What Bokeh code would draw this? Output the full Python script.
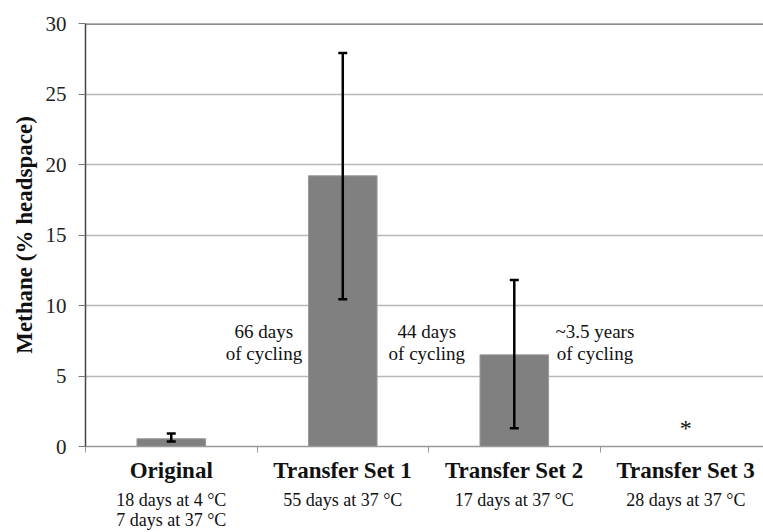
import math
from bokeh.plotting import figure
from bokeh.models import (ColumnDataSource, Range1d, FixedTicker, LinearAxis,
                          Whisker, TeeHead, Label, Span)
from bokeh.core.properties import value
from bokeh.embed import file_html
from bokeh.resources import INLINE

# ---- data ----
categories = ["Original", "Transfer Set 1", "Transfer Set 2", "Transfer Set 3"]
conditions = ["18 days at 4 °C\n7 days at 37 °C", "55 days at 37 °C", "17 days at 37 °C", "28 days at 37 °C"]
methane = [0.55, 19.2, 6.5, float("nan")]
err_low = [0.35, 10.45, 1.3, float("nan")]
err_high = [0.92, 27.9, 11.8, float("nan")]
cycling_text = ["66 days\nof cycling", "44 days\nof cycling", "~3.5 years\nof cycling"]
cycling_pos = [1.04, 1.99, 2.97]
cycling_y = [7.4, 7.4, 7.4]
not_detected = [3]  # index of category marked with asterisk
y_ticks = [0, 5, 10, 15, 20, 25, 30]

FONT = "Liberation Serif"
xs = [i + 0.5 for i in range(len(categories))]

p = figure(width=763, height=532, output_backend="svg", toolbar_location=None,
           x_range=Range1d(0, 3.953), y_range=Range1d(0, 30),
           min_border_left=85, min_border_right=0, min_border_top=23,
           min_border_bottom=86, x_axis_location=None)
p.outline_line_color = None
p.background_fill_color = "white"

# grid
p.xgrid.grid_line_color = None
p.ygrid.grid_line_color = "#b8b8b8"
p.ygrid.grid_line_width = 1.5
p.ygrid.ticker = FixedTicker(ticks=y_ticks)
p.add_layout(Span(location=30, dimension="width", line_color="#666666", line_width=2.5))

# y axis
p.yaxis.ticker = FixedTicker(ticks=y_ticks)
p.yaxis.axis_label = "Methane (% headspace)"
p.yaxis.axis_label_text_font = FONT
p.yaxis.axis_label_text_font_style = "bold"
p.yaxis.axis_label_text_font_size = "23px"
p.yaxis.axis_label_text_color = "#111111"
p.yaxis.axis_label_standoff = 6
p.yaxis.major_label_text_font = FONT
p.yaxis.major_label_text_font_size = "21px"
p.yaxis.major_label_text_color = "#222222"
p.yaxis.major_label_standoff = 12
p.yaxis.axis_line_color = "#444444"
p.yaxis.axis_line_width = 1.5
p.yaxis.major_tick_line_color = "#777777"
p.yaxis.major_tick_in = 0
p.yaxis.major_tick_out = 7
p.yaxis.minor_tick_line_color = None

# x axis: boundary ticks only
xa = LinearAxis(ticker=FixedTicker(ticks=[0, 1, 2, 3]))
xa.major_label_overrides = {0: "", 1: "", 2: "", 3: ""}
xa.major_label_text_font_size = "1px"
xa.major_label_standoff = 0
xa.axis_line_color = "#999999"
xa.axis_line_width = 1.5
xa.major_tick_line_color = "#999999"
xa.major_tick_in = 0
xa.major_tick_out = 6
xa.minor_tick_line_color = None
p.add_layout(xa, "below")

# category names (bold)
xb = LinearAxis(ticker=FixedTicker(ticks=xs))
xb.major_label_overrides = {x: c for x, c in zip(xs, categories)}
xb.major_label_text_font = FONT
xb.major_label_text_font_style = "bold"
xb.major_label_text_font_size = "23px"
xb.major_label_text_color = "#111111"
xb.major_label_standoff = 5
xb.axis_line_color = None
xb.major_tick_line_color = None
xb.major_tick_in = 0
xb.major_tick_out = 0
xb.minor_tick_line_color = None
p.add_layout(xb, "below")

# incubation conditions
xc = LinearAxis(ticker=FixedTicker(ticks=xs))
xc.major_label_overrides = {x: c for x, c in zip(xs, conditions)}
xc.major_label_text_font = FONT
xc.major_label_text_font_size = "18px"
xc.major_label_text_color = "#111111"
xc.major_label_text_line_height = 1.0
xc.major_label_standoff = 4
xc.axis_line_color = None
xc.major_tick_line_color = None
xc.major_tick_in = 0
xc.major_tick_out = 0
xc.minor_tick_line_color = None
p.add_layout(xc, "below")

# bars
bx = [x for x, v in zip(xs, methane) if not math.isnan(v)]
bv = [v for v in methane if not math.isnan(v)]
bars = ColumnDataSource(dict(x=bx, top=bv))
p.vbar(x="x", top="top", bottom=0, width=0.4, source=bars,
       fill_color="#808080", line_color="#9a9a9a", line_width=1)

# error bars
el = [v for v in err_low if not math.isnan(v)]
eh = [v for v in err_high if not math.isnan(v)]
es = ColumnDataSource(dict(base=bx, lower=el, upper=eh))
w = Whisker(base="base", lower="lower", upper="upper", source=es,
            line_color="black", line_width=2.5, level="annotation",
            upper_head=TeeHead(size=9, line_width=2.5, line_color="black"),
            lower_head=TeeHead(size=9, line_width=2.5, line_color="black"))
p.add_layout(w)

# cycling annotations
cs = ColumnDataSource(dict(x=cycling_pos, y=cycling_y, t=cycling_text))
p.text(x="x", y="y", text="t", source=cs, text_font=value(FONT),
       text_font_size="19px", text_align="center", text_baseline="middle",
       text_line_height=1.05, text_color="#111111")

# asterisk
for i in not_detected:
    p.add_layout(Label(x=xs[i], y=1.3, text="*", text_font=FONT, text_font_size="24px",
                       text_align="center", text_baseline="middle", text_color="#111111"))

open("out.html", "w").write(file_html(p, INLINE))
